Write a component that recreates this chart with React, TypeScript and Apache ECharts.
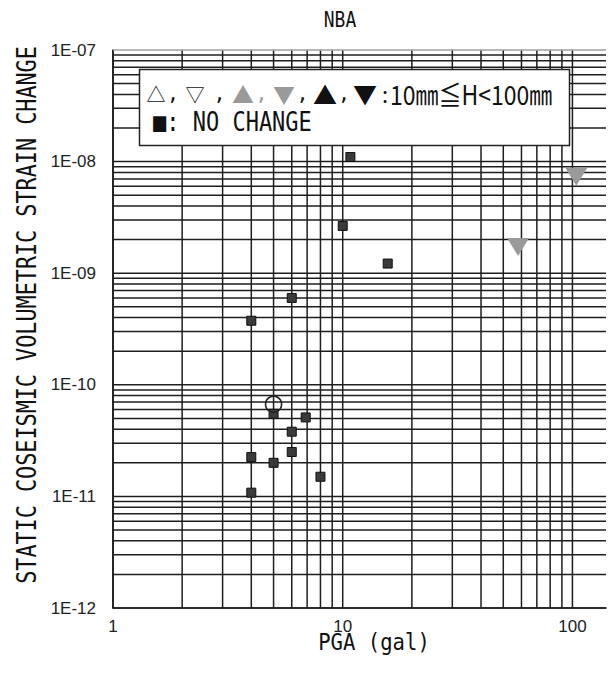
import React, { useEffect, useRef } from 'react';
import * as echarts from 'echarts';

// Axis ranges
const xRange = [1, 140];
const yRange = [1e-12, 1e-7];
// Grid-line multipliers inside each decade
const gridMultipliers = [1, 2, 3, 4, 5, 6, 7, 8, 9];
const xDecades = [1, 10];
const xLastLine = 100;
const yDecades = [1e-12, 1e-11, 1e-10, 1e-9, 1e-8];
const yTop = 1e-7;

// Data: "NO CHANGE" squares
const noChangePga = [10.8, 10, 15.7, 6, 4, 5, 6.9, 6, 6, 4, 5, 8, 4];
const noChangeStrain = [1.1e-8, 2.65e-9, 1.22e-9, 6.0e-10, 3.75e-10, 5.5e-11, 5.1e-11, 3.8e-11, 2.5e-11, 2.25e-11, 2.0e-11, 1.5e-11, 1.08e-11];
// Open circle
const circlePga = [5];
const circleStrain = [6.7e-11];
// Gray down triangles
const grayDownPga = [104, 58];
const grayDownStrain = [7.3e-9, 1.72e-9];

const isDecade = (v: number) => {
  const l = Math.log10(v);
  return Math.abs(l - Math.round(l)) < 1e-6;
};

export default function App() {
  const ref = useRef<HTMLDivElement>(null);
  useEffect(() => {
    if (!ref.current) return;
    const chart = echarts.init(ref.current, null, { renderer: 'svg' });

    const xLines: number[] = [];
    xDecades.forEach((d) => gridMultipliers.forEach((m) => xLines.push(m * d)));
    xLines.push(xLastLine);
    const yLines: number[] = [];
    yDecades.forEach((d) => gridMultipliers.forEach((m) => yLines.push(m * d)));

    const gridColor = '#1e1e1e';

    const hLine = (color: string, width: number) => (params: any, api: any) => {
      const v = api.value(1);
      const a = api.coord([xRange[0], v]);
      const b = api.coord([xRange[1], v]);
      return {
        type: 'line',
        shape: { x1: a[0], y1: a[1], x2: b[0], y2: b[1] },
        style: { stroke: color, lineWidth: width },
      };
    };
    const vLine = (color: string, width: number) => (params: any, api: any) => {
      const v = api.value(0);
      const a = api.coord([v, yRange[0]]);
      const b = api.coord([v, yRange[1]]);
      return {
        type: 'line',
        shape: { x1: a[0], y1: a[1], x2: b[0], y2: b[1] },
        style: { stroke: color, lineWidth: width },
      };
    };

    const mono = "'DejaVu Sans Mono', monospace";
    const cjk = "'Noto Sans CJK JP', sans-serif";
    const gray = '#9a9a9a';
    const black = '#111';
    const row1 = 93;

    const sym = (text: string, x: number, size: number, color: string, font = cjk) => ({
      type: 'text',
      x,
      y: row1,
      z: 101,
      style: { text, fontSize: size, fontFamily: font, fill: color, align: 'center', verticalAlign: 'middle' },
    });

    const tickFont = "'Liberation Sans', Arial, sans-serif";

    chart.setOption({
      animation: false,
      grid: { left: 113, top: 50, right: 0, bottom: 70, containLabel: false },
      xAxis: {
        type: 'log',
        logBase: 10,
        min: xRange[0],
        max: xRange[1],
        axisLine: { show: true, lineStyle: { color: '#111', width: 1.6 } },
        axisTick: { show: false },
        splitLine: { show: false },
        axisLabel: {
          margin: 10,
          fontSize: 17,
          fontFamily: tickFont,
          color: '#222',
          formatter: (v: number) => (isDecade(v) ? String(Math.round(v)) : ''),
        },
      },
      yAxis: {
        type: 'log',
        logBase: 10,
        min: yRange[0],
        max: yRange[1],
        axisLine: { show: true, lineStyle: { color: '#111', width: 1.6 } },
        axisTick: { show: false },
        splitLine: { show: false },
        axisLabel: {
          margin: 17,
          fontSize: 17,
          fontFamily: tickFont,
          color: '#222',
          formatter: (v: number) => {
            if (!isDecade(v)) return '';
            const e = Math.round(Math.log10(v));
            return '1E' + (e < 0 ? '-' : '+') + String(Math.abs(e)).padStart(2, '0');
          },
        },
      },
      series: [
        {
          name: 'hgrid',
          type: 'custom',
          z: 1,
          silent: true,
          renderItem: hLine(gridColor, 1.5),
          data: yLines.map((v) => [xRange[0], v]),
        },
        {
          name: 'vgrid',
          type: 'custom',
          z: 1,
          silent: true,
          renderItem: vLine(gridColor, 1.5),
          data: xLines.map((v) => [v, yRange[0]]),
        },
        {
          name: 'top',
          type: 'custom',
          z: 2,
          silent: true,
          renderItem: hLine('#a0a0a0', 1.6),
          data: [[xRange[0], yTop]],
        },
        {
          name: 'NO CHANGE',
          type: 'scatter',
          z: 5,
          symbol: 'rect',
          symbolSize: 9,
          itemStyle: { color: '#3a3a3a', borderColor: '#111', borderWidth: 1, opacity: 1 },
          data: noChangePga.map((x, i) => [x, noChangeStrain[i]]),
        },
        {
          name: 'circle',
          type: 'scatter',
          z: 6,
          symbol: 'circle',
          symbolSize: 16,
          itemStyle: { color: 'rgba(0,0,0,0)', borderColor: '#222', borderWidth: 1.6, opacity: 1 },
          data: circlePga.map((x, i) => [x, circleStrain[i]]),
        },
        {
          name: '10mm<=H<100mm',
          type: 'scatter',
          z: 5,
          symbol: 'triangle',
          symbolRotate: 180,
          symbolSize: [22, 18],
          itemStyle: { color: gray, opacity: 1 },
          data: grayDownPga.map((x, i) => [x, grayDownStrain[i]]),
        },
      ],
      graphic: [
        {
          type: 'text',
          x: 340,
          y: 20,
          z: 100,
          scaleY: 1.2,
          style: { text: 'NBA', fontSize: 18, fontFamily: mono, fill: '#111', align: 'center', verticalAlign: 'middle' },
        },
        {
          type: 'text',
          x: 374,
          y: 641,
          z: 100,
          scaleY: 1.15,
          style: { text: 'PGA (gal)', fontSize: 20.6, fontFamily: mono, fill: '#111', align: 'center', verticalAlign: 'middle' },
        },
        {
          type: 'text',
          x: 27,
          y: 315,
          rotation: Math.PI / 2,
          z: 100,
          scaleY: 1.25,
          style: {
            text: 'STATIC COSEISMIC VOLUMETRIC STRAIN CHANGE',
            fontSize: 21.8,
            fontFamily: mono,
            fill: '#111',
            align: 'center',
            verticalAlign: 'middle',
          },
        },
        {
          type: 'rect',
          z: 100,
          shape: { x: 139.5, y: 69.5, width: 430, height: 76 },
          style: { fill: '#fff', stroke: '#222', lineWidth: 1.5 },
        },
        sym('△', 156, 19, black),
        sym(',', 173, 20, black, mono),
        sym('▽', 195, 19, black),
        sym(',', 219.5, 20, black, mono),
        sym('▲', 243, 22, gray),
        sym(',', 261.5, 20, gray, mono),
        sym('▼', 284, 22, gray),
        sym(',', 302.5, 20, black, mono),
        sym('▲', 325, 24, black),
        sym(',', 344, 20, black, mono),
        sym('▼', 365, 24, black),
        sym(':', 385, 22, black),
        {
          type: 'text',
          x: 390,
          y: row1,
          z: 101,
          scaleY: 1.15,
          style: { text: '10㎜≦H<100㎜', fontSize: 23, fontFamily: cjk, fill: black, align: 'left', verticalAlign: 'middle' },
        },
        {
          type: 'text',
          x: 153,
          y: 122,
          z: 101,
          scaleY: 1.2,
          style: { text: '■: NO CHANGE', fontSize: 22, fontFamily: mono, fill: black, align: 'left', verticalAlign: 'middle' },
        },
      ],
    });
    return () => chart.dispose();
  }, []);
  return <div ref={ref} style={{ position: 'absolute', left: 0, top: 0, width: 609, height: 678 }} />;
}
